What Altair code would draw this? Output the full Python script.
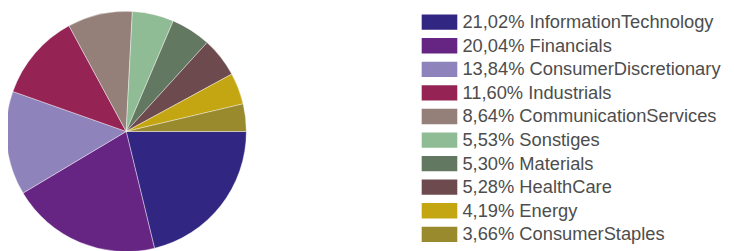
import math
import altair as alt
import pandas as pd

categories = ["InformationTechnology", "Financials", "ConsumerDiscretionary", "Industrials",
              "CommunicationServices", "Sonstiges", "Materials", "HealthCare", "Energy",
              "ConsumerStaples"]
values = [21.02, 20.04, 13.84, 11.60, 8.64, 5.53, 5.30, 5.28, 4.19, 3.66]
value_labels = ["21,02%", "20,04%", "13,84%", "11,60%", "8,64%", "5,53%", "5,30%", "5,28%",
                "4,19%", "3,66%"]
colors = ["#312783", "#662483", "#8F83BC", "#952353", "#958079", "#8FBC94", "#637860",
          "#6D4A4E", "#C4A512", "#9A8A2E"]

df = pd.DataFrame({
    "cat": categories,
    "value": values,
    "idx": list(range(len(categories))),
    "label": [f"{v} {c}" for v, c in zip(value_labels, categories)],
})
total = float(sum(values))

color = alt.Color("cat:N", scale=alt.Scale(domain=categories, range=colors), legend=None)

pie = alt.Chart(df).mark_arc(stroke="white", strokeWidth=0.4).encode(
    theta=alt.Theta("value:Q", stack=True,
                    scale=alt.Scale(domain=[0, total], range=[math.pi / 2, math.pi / 2 + 2 * math.pi])),
    color=color,
    order=alt.Order("idx:Q"),
    x=alt.value(119.5),
    y=alt.value(123.5),
    radius=alt.value(121.5),
)

ypos = alt.Y("cat:N", sort=categories, axis=None,
             scale=alt.Scale(type="point", range=[13.0, 227.5], padding=0))

swatch = alt.Chart(df).mark_point(
    shape="M-1,-0.43L1,-0.43L1,0.43L-1,0.43Z", size=1296, filled=True, opacity=1
).encode(
    x=alt.value(436.3),
    y=ypos,
    color=color,
)

text = alt.Chart(df).mark_text(
    align="left", baseline="middle", fontSize=18.5, font="Liberation Sans", color="#4d4d4d"
).encode(
    x=alt.value(459.5),
    y=ypos,
    text="label:N",
)

chart = alt.layer(pie, swatch, text).properties(
    width=726, height=243, padding=0, autosize=alt.AutoSizeParams(type="none")
).configure_view(stroke=None)

chart.save("out.html", embed_options={"renderer": "svg", "actions": False})
